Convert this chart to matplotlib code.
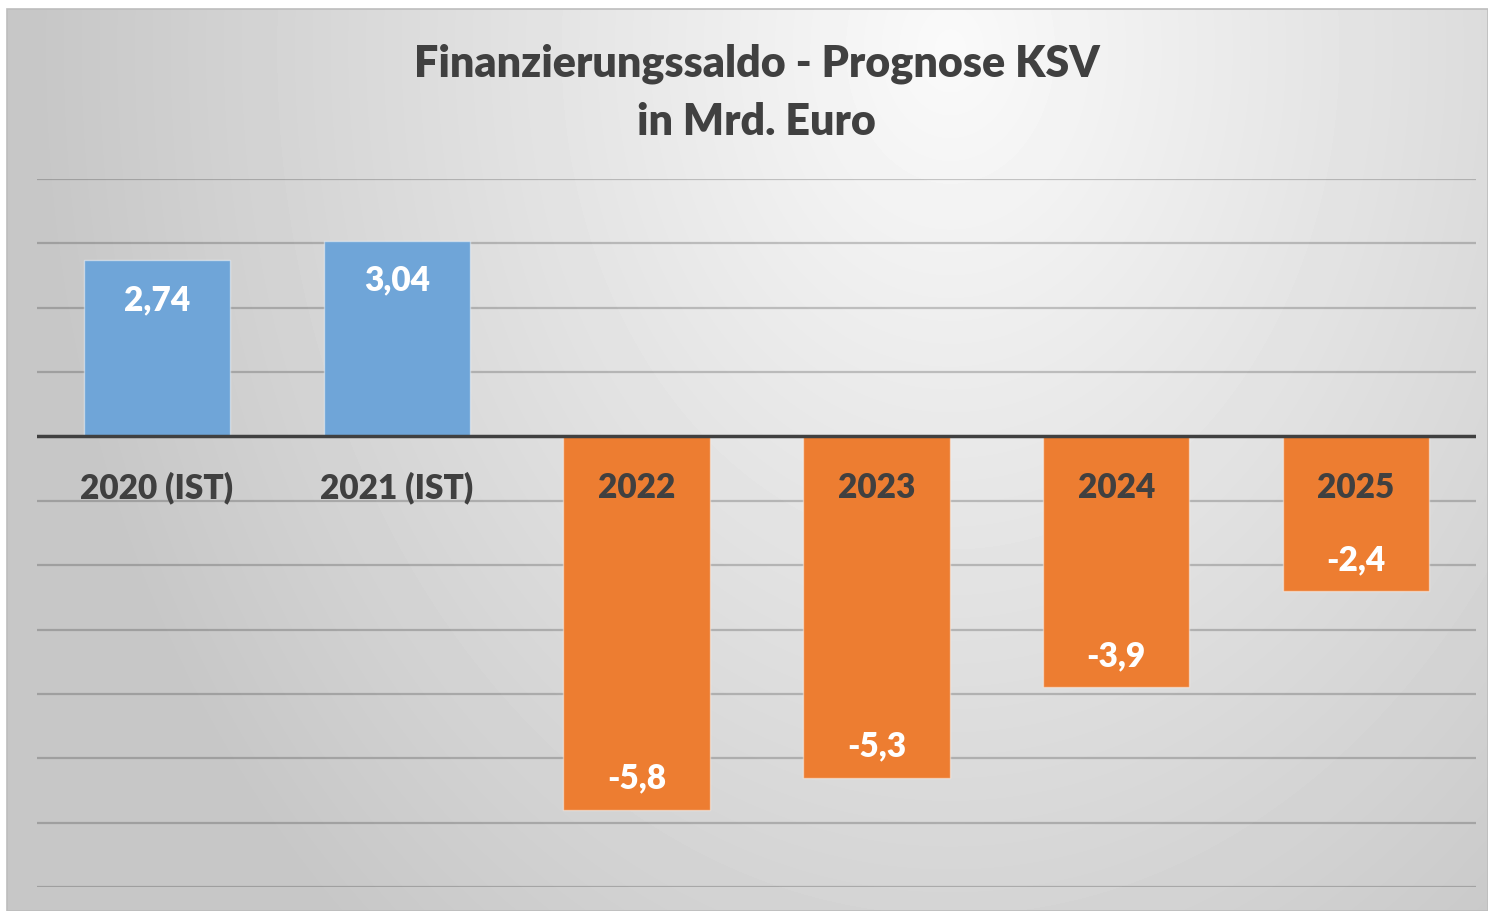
import numpy as np
import matplotlib.pyplot as plt
from matplotlib.patches import Rectangle

# data
categories = ["2020 (IST)", "2021 (IST)", "2022", "2023", "2024", "2025"]
values = [2.74, 3.04, -5.8, -5.3, -3.9, -2.4]
value_labels = ["2,74", "3,04", "-5,8", "-5,3", "-3,9", "-2,4"]
title_lines = ["Finanzierungssaldo - Prognose KSV", "in Mrd. Euro"]

BLUE = "#6fa5d8"
ORANGE = "#ed7d31"
DARK = "#404040"
FONT = "Lato"
WEIGHT = "heavy"

W, H = 1488, 912
fig = plt.figure(figsize=(W / 100, H / 100), dpi=100, facecolor="white")

# background frame with soft radial gradient
fx0, fy0 = 7, 10  # frame top-left in pixels
bg = fig.add_axes([fx0 / W, 0, (W - fx0) / W, (H - fy0) / H], zorder=0)
xx, yy = np.meshgrid(np.arange(fx0, W), np.arange(fy0, H))
d = np.sqrt(((xx - 950) / 700.0) ** 2 + ((yy - 50) / 900.0) ** 2)
shade = 0.98 - 0.2 * np.clip(d, 0, 1.3) / 1.3
bg.imshow(shade, cmap="gray", vmin=0, vmax=1, aspect="auto",
          interpolation="bilinear")
bg.set_axis_off()
fig.patches.append(Rectangle((fx0 / W, 0), (W - fx0) / W, (H - fy0) / H,
                             transform=fig.transFigure, fill=False,
                             edgecolor="#bdbdbd", lw=1.2, zorder=1))

# plot area
ax = fig.add_axes([37 / W, 24 / H, (1476 - 37) / W, (888 - 180) / H], zorder=2)
ax.patch.set_alpha(0)
x = np.arange(len(categories))
colors = [BLUE if v > 0 else ORANGE for v in values]
ax.bar(x, values, width=0.61, color=colors, edgecolor=(1, 1, 1, 0.45),
       linewidth=1.0, zorder=3)

ax.set_xlim(-0.5, len(categories) - 0.5)
ax.set_ylim(-7, 4)
for gy in range(-7, 5):
    if gy != 0:
        ax.axhline(gy, color="black", alpha=0.2, lw=1.6, zorder=1)
ax.axhline(0, color=DARK, lw=2.5, zorder=4)

for s in ax.spines.values():
    s.set_visible(False)
ax.set_xticks([])
ax.set_yticks([])

# category labels under the zero line
for i, cat in enumerate(categories):
    ax.text(i, -0.78, cat, ha="center", va="center", fontsize=24,
            fontweight=WEIGHT, color=DARK, family=FONT, zorder=5)

# value labels inside bar ends
for i, (v, lab) in enumerate(zip(values, value_labels)):
    off = -28 if v > 0 else 23
    ax.annotate(lab, (i, v), xytext=(0, off), textcoords="offset points",
                ha="center", va="center", fontsize=24, fontweight=WEIGHT,
                color="white", family=FONT, zorder=5)

fig.text(756.5 / W, 1 - 64 / H, title_lines[0], ha="center", va="center",
         fontsize=31, fontweight=WEIGHT, color=DARK, family=FONT)
fig.text(756.5 / W, 1 - 122 / H, title_lines[1], ha="center", va="center",
         fontsize=31, fontweight=WEIGHT, color=DARK, family=FONT)

fig.savefig("out.png", dpi=100, facecolor="white")
